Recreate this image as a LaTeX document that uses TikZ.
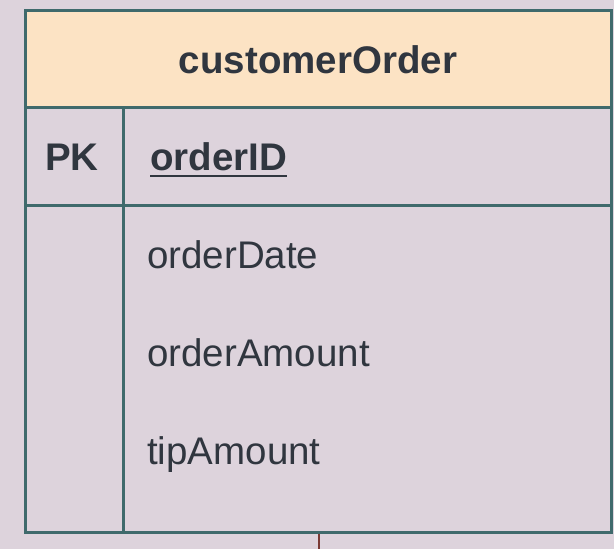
\documentclass[tikz,border=0pt]{standalone}
\usepackage{fontspec}
\setmainfont{Liberation Sans}
\definecolor{bgc}{HTML}{DDD3DC}
\definecolor{hdrc}{HTML}{FCE3C4}
\definecolor{brd}{HTML}{3F6A6C}
\definecolor{txt}{HTML}{30363F}
\definecolor{conn}{HTML}{7A3A34}
\begin{document}
\begin{tikzpicture}[x=1pt,y=-1pt,
  lbl/.style={anchor=base west,inner sep=0pt,text=txt,font=\fontsize{38.5}{42}\selectfont},
  blbl/.style={lbl,font=\fontsize{38.5}{42}\selectfont\bfseries},
  rule/.style={draw=brd,line width=3pt}]
\useasboundingbox (0,0) rectangle (614,549);
\fill[bgc] (0,0) rectangle (614,549);
\fill[hdrc] (25,10) rectangle (611,107);
\draw[rule] (25,107) -- (611,107);
\draw[rule] (25,205) -- (611,205);
\draw[rule] (123,107) -- (123,532);
\draw[rule] (25,10) rectangle (611,532);
\node[blbl,anchor=base] (title) at (318,73) {customerOrder};
\node[blbl] (pk) at (45,170) {PK};
\node[blbl] (oid) at (150,170) {orderID};
\draw[txt,line width=2pt] (oid.base west) ++(0,6) -- ++(137,0);
\node[lbl] (odate) at (147,268) {orderDate};
\node[lbl] (oamt) at (147,366) {orderAmount};
\node[lbl] (tamt) at (147,464) {tipAmount};
\coordinate (tb) at (319,533.5);
\coordinate (te) at (319,549);
\draw[conn,line width=2pt] (tb) -- (te);
\end{tikzpicture}
\end{document}
